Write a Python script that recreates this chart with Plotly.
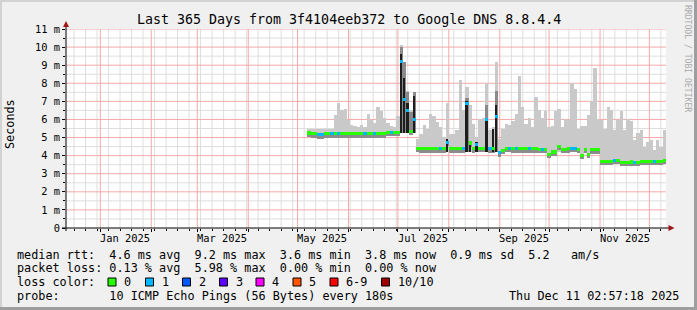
import pandas as pd
import plotly.graph_objects as go

# ---------------- data ----------------
sample_dates = pd.date_range("2025-05-08", periods=109, freq="2D")

rtt_median = [
    5.25, 5.2, 5.2, 5.15, 5.15, 5.2, 5.2, 5.2, 5.2, 5.2,
    5.2, 5.2, 5.2, 5.2, 5.2, 5.2, 5.2, 5.2, 5.2, 5.2,
    5.2, 5.2, 5.2, 5.2, 5.3, 5.3, 5.3, 5.3, 9.2, 7.1,
    6.5, 5.35, 6.0, 4.4, 4.37, 4.37, 4.37, 4.37, 4.37, 4.37,
    4.37, 4.37, 4.75, 4.37, 4.37, 4.37, 4.37, 4.37, 6.9, 4.7,
    4.37, 4.6, 4.4, 4.4, 6.0, 4.37, 4.37, 6.15, 4.15, 4.3,
    4.4, 4.4, 4.37, 4.37, 4.37, 4.37, 4.37, 4.37, 4.37, 4.37,
    4.33, 4.33, 4.33, 4.05, 4.2, 4.2, 4.5, 4.35, 4.35, 4.37,
    4.4, 4.4, 4.35, 4.0, 4.35, 4.05, 4.32, 4.32, 4.32, 3.67,
    3.67, 3.67, 3.7, 3.72, 3.75, 3.62, 3.62, 3.62, 3.65, 3.62,
    3.62, 3.68, 3.68, 3.68, 3.68, 3.68, 3.68, 3.7, 3.75,
]

loss_count = [
    0, 0, 0, 1, 1, 0, 0, 1, 0, 1,
    0, 0, 0, 0, 0, 0, 0, 1, 0, 0,
    1, 0, 0, 0, 0, 1, 0, 0, 1, 1,
    1, 0, 1, 0, 0, 0, 0, 0, 0, 0,
    1, 0, 1, 0, 0, 0, 0, 1, 1, 0,
    0, 1, 0, 0, 1, 1, 0, 1, 1, 0,
    0, 1, 0, 1, 0, 0, 0, 1, 0, 0,
    0, 1, 0, 0, 0, 0, 0, 0, 0, 0,
    1, 1, 0, 0, 0, 0, 0, 0, 0, 0,
    0, 0, 0, 1, 0, 0, 0, 0, 0, 1,
    0, 0, 0, 0, 0, 1, 0, 0, 0,
]

smoke_min = [
    5.05, 5.05, 5.05, 5.0, 5.0, 5.05, 5.05, 5.05, 5.05, 5.05,
    5.05, 5.05, 5.05, 5.05, 5.05, 5.05, 5.05, 5.05, 5.05, 5.05,
    5.05, 5.05, 5.05, 5.05, 5.15, 5.15, 5.15, 5.15, 5.25, 5.25,
    5.25, 5.2, 5.25, 4.25, 4.22, 4.22, 4.22, 4.22, 4.22, 4.22,
    4.22, 4.22, 4.22, 4.22, 4.22, 4.22, 4.22, 4.22, 4.22, 4.22,
    4.22, 4.22, 4.22, 4.22, 4.22, 4.22, 4.22, 4.22, 4.0, 4.15,
    4.22, 4.22, 4.22, 4.22, 4.22, 4.22, 4.22, 4.22, 4.22, 4.22,
    4.2, 4.2, 4.2, 3.9, 4.05, 4.05, 4.2, 4.2, 4.2, 4.22,
    4.22, 4.22, 4.2, 3.9, 4.2, 3.9, 4.2, 4.2, 4.2, 3.55,
    3.55, 3.55, 3.55, 3.55, 3.55, 3.5, 3.5, 3.5, 3.5, 3.5,
    3.5, 3.55, 3.55, 3.55, 3.55, 3.55, 3.55, 3.55, 3.6,
]

smoke_max = [
    5.45, 5.45, 5.5, 5.45, 5.5, 5.45, 5.5, 5.5, 6.25, 6.9,
    6.5, 6.6, 5.95, 5.7, 5.65, 5.6, 5.7, 5.6, 6.3, 5.95,
    5.8, 6.7, 6.45, 6.1, 5.8, 5.65, 5.6, 6.2, 10.1, 9.0,
    7.6, 6.5, 7.5, 4.9, 5.2, 5.7, 5.5, 6.3, 6.2, 5.85,
    5.6, 5.05, 6.9, 5.2, 5.2, 5.4, 8.2, 6.5, 7.8, 6.8,
    5.75, 5.05, 6.0, 6.1, 8.0, 5.4, 5.6, 9.2, 4.9, 5.5,
    5.75, 5.7, 5.9, 6.3, 8.4, 6.7, 5.75, 6.1, 5.6, 7.25,
    6.5, 6.1, 6.45, 5.6, 5.65, 6.45, 6.6, 5.6, 6.05, 5.95,
    8.0, 7.7, 5.5, 5.65, 5.65, 6.25, 7.0, 8.85, 6.05, 5.95,
    5.5, 6.7, 6.5, 5.4, 5.95, 6.45, 5.4, 6.05, 5.9, 4.85,
    5.25, 5.4, 4.5, 4.75, 4.85, 4.3, 4.85, 4.5, 5.4,
]

# denser (mid-grey) smoke, only where visible
smoke_mid = {28: 10.0, 29: 9.2, 30: 7.5, 31: 6.4, 32: 7.5, 48: 7.2, 54: 6.8, 57: 7.6}
# near-black smoke spikes
smoke_dark = {28: 9.6, 29: 8.3, 30: 6.9, 32: 7.3, 42: 4.9, 48: 7.0, 49: 4.75,
              51: 4.75, 54: 6.0, 56: 5.5, 57: 6.8}

y_tick_vals = [0, 1, 2, 3, 4, 5, 6, 7, 8, 9, 10, 11]
y_tick_text = ["0", "1 m", "2 m", "3 m", "4 m", "5 m", "6 m", "7 m", "8 m", "9 m", "10 m", "11 m"]
y_minor_vals = [0.5, 1.5, 2.5, 3.5, 4.5, 5.5, 6.5, 7.5, 8.5, 9.5, 10.5]
month_label_dates = ["2025-01-16", "2025-03-16", "2025-05-16", "2025-07-16", "2025-09-16", "2025-11-16"]
month_labels = ["Jan 2025", "Mar 2025", "May 2025", "Jul 2025", "Sep 2025", "Nov 2025"]

loss_labels = ["0", "1", "2", "3", "4", "5", "6-9", "10/10"]
loss_colors = ["#26ff00", "#00b8ff", "#0059ff", "#5e00ff", "#ff00ff", "#ff5500", "#ff0000", "#a10000"]

title_text = "Last 365 Days from 3f4104eeb372 to Google DNS 8.8.4.4"
legend_rtt = "median rtt:  4.6 ms avg  9.2 ms max  3.6 ms min  3.8 ms now  0.9 ms sd  5.2   am/s"
legend_loss = "packet loss: 0.13 % avg  5.98 % max  0.00 % min  0.00 % now"
legend_probe = "probe:       10 ICMP Echo Pings (56 Bytes) every 180s"
stamp_text = "Thu Dec 11 02:57:18 2025"

# ---------------- layout helpers ----------------
W, H = 697, 310
ML, MR, MT, MB = 66, 31, 29, 82
PW, PH = W - ML - MR, H - MT - MB


def px(x):
    return (x - ML) / PW


def py(y):
    return (H - MB - y) / PH


MONO = "DejaVu Sans Mono"
DAY = 86400000
bar_w = 2 * DAY
RED_GRID = "#f5a8a8"
GRAY_GRID = "#dedede"

fig = go.Figure()

# light smoke
fig.add_trace(go.Bar(
    x=sample_dates, base=smoke_min,
    y=[hi - lo for hi, lo in zip(smoke_max, smoke_min)],
    width=bar_w, marker=dict(color="#c9c9c9", line=dict(width=0)),
    hoverinfo="skip", showlegend=False))

# mid smoke
mid_idx = sorted(smoke_mid)
fig.add_trace(go.Bar(
    x=[sample_dates[i] for i in mid_idx], base=[smoke_min[i] for i in mid_idx],
    y=[smoke_mid[i] - smoke_min[i] for i in mid_idx],
    width=bar_w, marker=dict(color="#8a8a8a", line=dict(width=0)),
    hoverinfo="skip", showlegend=False))

# dense smoke just under the median
fig.add_trace(go.Bar(
    x=sample_dates, base=[m - 0.18 for m in rtt_median], y=[0.1] * len(rtt_median),
    width=bar_w, marker=dict(color="#8c8c8c", line=dict(width=0)),
    hoverinfo="skip", showlegend=False))

# dark spikes
dark_idx = sorted(smoke_dark)
fig.add_trace(go.Bar(
    x=[sample_dates[i] for i in dark_idx], base=[smoke_min[i] for i in dark_idx],
    y=[smoke_dark[i] - smoke_min[i] for i in dark_idx],
    width=1.2 * DAY, marker=dict(color="#1e1e1e", line=dict(width=0)),
    hoverinfo="skip", showlegend=False))

# median coloured by loss
fig.add_trace(go.Bar(
    x=sample_dates, base=[m - 0.085 for m in rtt_median], y=[0.17] * len(rtt_median),
    width=bar_w, marker=dict(color=[loss_colors[c] for c in loss_count], line=dict(width=0)),
    hoverinfo="skip", showlegend=False))

month_starts = pd.date_range("2025-01-01", "2025-12-01", freq="MS")
week_marks = [d for d in pd.date_range("2024-12-16", "2025-12-08", freq="7D") if d.day != 1]

shapes = []
# frame borders
shapes.append(dict(type="rect", xref="paper", yref="paper", x0=px(0), x1=px(W), y0=py(0), y1=py(2),
                   fillcolor="#d2d2d2", line=dict(width=0), layer="below"))
shapes.append(dict(type="rect", xref="paper", yref="paper", x0=px(0), x1=px(2), y0=py(0), y1=py(H),
                   fillcolor="#d2d2d2", line=dict(width=0), layer="below"))
shapes.append(dict(type="rect", xref="paper", yref="paper", x0=px(W - 3), x1=px(W), y0=py(0), y1=py(H),
                   fillcolor="#9e9e9e", line=dict(width=0), layer="below"))
shapes.append(dict(type="rect", xref="paper", yref="paper", x0=px(0), x1=px(W), y0=py(H - 3), y1=py(H),
                   fillcolor="#9e9e9e", line=dict(width=0), layer="below"))
# grid (drawn under the data): minor grey first, then major red
for d in week_marks:
    shapes.append(dict(type="line", xref="x", yref="paper", x0=d, x1=d, y0=0, y1=1,
                       line=dict(color=GRAY_GRID, width=1), layer="below"))
for v in y_minor_vals:
    shapes.append(dict(type="line", xref="paper", yref="y", x0=0, x1=1, y0=v, y1=v,
                       line=dict(color=GRAY_GRID, width=1), layer="below"))
for d in month_starts:
    shapes.append(dict(type="line", xref="x", yref="paper", x0=d, x1=d, y0=0, y1=1,
                       line=dict(color=RED_GRID, width=1), layer="below"))
for v in y_tick_vals[1:]:
    shapes.append(dict(type="line", xref="paper", yref="y", x0=0, x1=1, y0=v, y1=v,
                       line=dict(color=RED_GRID, width=1), layer="below"))
# axes
shapes.append(dict(type="line", xref="paper", yref="paper", x0=px(62), x1=px(670), y0=0, y1=0,
                   line=dict(color="black", width=1)))
shapes.append(dict(type="line", xref="paper", yref="paper", x0=0, x1=0, y0=py(231), y1=py(25),
                   line=dict(color="black", width=1)))
shapes.append(dict(type="path", xref="paper", yref="paper",
                   path=f"M {px(674.5)},{py(228)} L {px(668.5)},{py(225)} L {px(668.5)},{py(231)} Z",
                   fillcolor="#a11515", line=dict(width=0)))
shapes.append(dict(type="path", xref="paper", yref="paper",
                   path=f"M {px(66)},{py(21)} L {px(63)},{py(27)} L {px(69)},{py(27)} Z",
                   fillcolor="#a11515", line=dict(width=0)))

annotations = []
annotations.append(dict(text=title_text, xref="paper", yref="paper", x=px(348.5), y=py(19.5),
                        xanchor="center", yanchor="middle", showarrow=False,
                        font=dict(family=MONO, size=13.3, color="black")))
annotations.append(dict(text="Seconds", xref="paper", yref="paper", x=px(10), y=py(124),
                        xanchor="center", yanchor="middle", textangle=-90, showarrow=False,
                        font=dict(family=MONO, size=11.8, color="black")))
annotations.append(dict(text="RRDTOOL / TOBI OETIKER", xref="paper", yref="paper", x=px(688.5), y=py(58.5),
                        xanchor="center", yanchor="middle", textangle=90, showarrow=False,
                        font=dict(family=MONO, size=8.1, color="#aaaaaa")))
for d, lab in zip(month_label_dates, month_labels):
    annotations.append(dict(text=lab, xref="x", yref="paper", x=d, y=py(237.5),
                            xanchor="center", yanchor="middle", showarrow=False,
                            font=dict(family=MONO, size=10.4, color="black")))
for txt, yy in [(legend_rtt, 255), (legend_loss, 268.3), ("loss color:", 281.7), (legend_probe, 295.7)]:
    annotations.append(dict(text=txt.replace(" ", "&nbsp;"), xref="paper", yref="paper", x=px(15), y=py(yy),
                            xanchor="left", yanchor="middle", showarrow=False,
                            font=dict(family=MONO, size=11.8, color="black")))
annotations.append(dict(text=stamp_text, xref="paper", yref="paper", x=px(681), y=py(295.7),
                        xanchor="right", yanchor="middle", showarrow=False,
                        font=dict(family=MONO, size=11.8, color="black")))

box_left = [108, 145.5, 182.5, 219.5, 256, 293, 330, 381.5]
for bl, lab, col in zip(box_left, loss_labels, loss_colors):
    shapes.append(dict(type="rect", xref="paper", yref="paper", x0=px(bl), x1=px(bl + 8),
                       y0=py(286), y1=py(278), fillcolor=col, line=dict(color="black", width=1)))
    annotations.append(dict(text=lab, xref="paper", yref="paper", x=px(bl + 14), y=py(281.7),
                            xanchor="left", yanchor="middle", showarrow=False,
                            font=dict(family=MONO, size=11.8, color="black")))

fig.update_layout(
    width=W, height=H,
    margin=dict(l=ML, r=MR, t=MT, b=MB, pad=0),
    paper_bgcolor="#f0f0f0", plot_bgcolor="white",
    barmode="overlay", bargap=0,
    showlegend=False,
    shapes=shapes, annotations=annotations,
    xaxis=dict(
        type="date", range=["2024-12-11 02:57:18", "2025-12-11 02:57:18"],
        tickvals=list(month_starts), ticktext=[""] * len(month_starts),
        showgrid=False,
        ticks="outside", ticklen=3, tickcolor="black", tickwidth=1,
        showline=False, zeroline=False, fixedrange=True,
        minor=dict(tickvals=week_marks, showgrid=False,
                   ticks="outside", ticklen=2, tickcolor="black"),
    ),
    yaxis=dict(
        range=[0, 11], tickvals=y_tick_vals, ticktext=y_tick_text,
        showgrid=False,
        ticks="outside", ticklen=3, tickcolor="black", tickwidth=1,
        tickfont=dict(family=MONO, size=10.4, color="black"),
        showline=False, zeroline=False, fixedrange=True,
        minor=dict(tickvals=y_minor_vals, showgrid=False,
                   ticks="outside", ticklen=2, tickcolor="black"),
    ),
)

fig.write_html("out.html")
